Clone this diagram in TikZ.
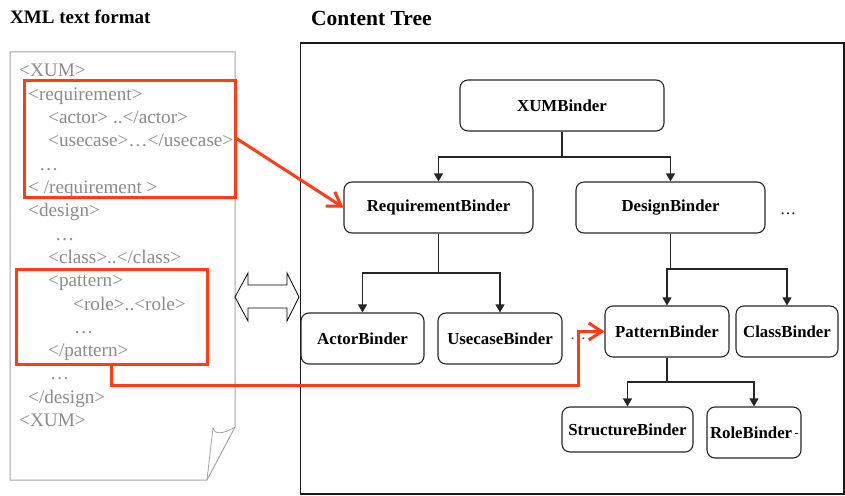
\documentclass[tikz,border=0pt]{standalone}
\usepackage{fontspec}
\setmainfont{Liberation Serif}
\usetikzlibrary{arrows.meta}
\definecolor{hilite}{RGB}{255,60,20}
\definecolor{xmlgray}{RGB}{140,140,140}
\definecolor{pageedge}{RGB}{165,165,165}

\begin{document}
\begin{tikzpicture}[x=1pt,y=-1pt,
  binder/.style={draw=black!85, line width=1.1pt, rounded corners=8pt, inner sep=0pt,
    font=\fontsize{16.8}{18}\selectfont\bfseries},
  xmlline/.style={anchor=base west, inner sep=0pt, text=xmlgray,
    font=\fontsize{19.2}{21}\selectfont},
  tree/.style={draw=black!85, line width=1.1pt, -{Triangle[length=8pt,width=9pt]}},
  link/.style={draw=hilite, line width=3pt, -{Straight Barb[length=13pt,width=17pt]}},
  markbox/.style={draw=hilite, line width=3pt, inner sep=0pt},
  heading/.style={anchor=base west, inner sep=0pt},
  etc/.style={inner sep=0pt, font=\fontsize{16}{18}\selectfont}
]
\useasboundingbox (0,0) rectangle (845,495);

% headings
\node[heading, font=\fontsize{19}{21}\selectfont\bfseries] (xmltitle) at (10,24) {XML text format};
\node[heading, font=\fontsize{21.5}{23}\selectfont\bfseries] (treetitle) at (311,26) {Content Tree};

% the XML document page with a folded corner
\draw[pageedge, line width=1pt, fill=white]
  (10,52) -- (235,52) -- (235,427) -- (207,480) -- (10,480) -- cycle;
\draw[pageedge, line width=0.8pt]
  (207,480) -- (213,428) .. controls (214,434) and (222,435) .. (235,427);

% XML listing
\node[xmlline] (l1)  at (19,77)    {<XUM>};
\node[xmlline] (l2)  at (28,100.3) {<requirement>};
\node[xmlline] (l3)  at (48,123.6) {<actor> ..</actor>};
\node[xmlline] (l4)  at (48,146.9) {<usecase>…</usecase>};
\node[xmlline] (l5)  at (39,170.2) {…};
\node[xmlline] (l6)  at (28,193.5) {< /requirement >};
\node[xmlline] (l7)  at (28,216.8) {<design>};
\node[xmlline] (l8)  at (55,240.1) {…};
\node[xmlline] (l9)  at (48,263.4) {<class>..</class>};
\node[xmlline] (l10) at (48,286.7) {<pattern>};
\node[xmlline] (l11) at (73,310)   {<role>..<role>};
\node[xmlline] (l12) at (74,333.3) {…};
\node[xmlline] (l13) at (48,356.6) {</pattern>};
\node[xmlline] (l14) at (50,379.9) {…};
\node[xmlline] (l15) at (28,403.2) {</design>};
\node[xmlline] (l16) at (19,426.5) {<XUM>};

% highlighted fragments
\node[markbox, minimum width=211pt, minimum height=117pt] (reqbox) at (129.5,138.5) {};
\node[markbox, minimum width=191pt, minimum height=95pt] (patbox) at (111.5,316.5) {};

% two-way correspondence arrow
\draw[black, line width=0.8pt, fill=white]
  (235,297) -- (248,273) -- (248,285) -- (287,285) -- (287,273) -- (299,297)
  -- (287,321) -- (287,308) -- (248,308) -- (248,321) -- cycle;

% content tree panel
\draw[black!90, line width=1.2pt] (300.5,43) rectangle (844,494);

% binders
\node[binder, minimum width=204pt, minimum height=51pt] (xum) at (562,105.5) {XUMBinder};
\node[binder, minimum width=189pt, minimum height=51pt] (req) at (438.5,207.5) {RequirementBinder};
\node[binder, minimum width=189pt, minimum height=51pt] (des) at (670.5,207.5) {DesignBinder};
\node[binder, minimum width=123pt, minimum height=51pt] (act) at (362.5,338.5) {ActorBinder};
\node[binder, minimum width=124pt, minimum height=51pt] (use) at (500,338.5) {UsecaseBinder};
\node[binder, minimum width=124pt, minimum height=51pt] (pat) at (667,331.5) {PatternBinder};
\node[binder, minimum width=102pt, minimum height=51pt] (cls) at (787,331.5) {ClassBinder};
\node[binder, minimum width=131pt, minimum height=45pt] (str) at (627.5,429.5) {StructureBinder};
\node[binder, minimum width=94pt, minimum height=51pt] (rol) at (754,432.5)
  {RoleBinder\,{\normalfont\rule[0.28em]{3pt}{0.6pt}}};

\node[etc] (moredes) at (788,214) {…};
\node[etc, text=black!70] (moreuse) at (578,339) {…};

% tree edges
\coordinate (j1) at (562,157);
\coordinate (j2) at (438.5,273);
\coordinate (j3) at (670.5,269);
\coordinate (j4) at (667,382);
\draw[tree] (xum.south) -- (j1) -| (req.north);
\draw[tree] (j1) -| (des.north);
\draw[tree] (req.south) -- (j2) -| (act.north);
\draw[tree] (j2) -| (use.north);
\draw[tree] (des.south) -- (j3) -| (pat.north);
\draw[tree] (j3) -| (cls.north);
\draw[tree] (pat.south) -- (j4) -| (str.north);
\draw[tree] (j4) -| (rol.north);

% mappings from XML fragments to binders
\coordinate (bend) at (578,385);
\draw[link] (reqbox.east) -- (req.west);
\draw[link] (patbox.south) |- (bend) |- (pat.west);
\end{tikzpicture}
\end{document}
